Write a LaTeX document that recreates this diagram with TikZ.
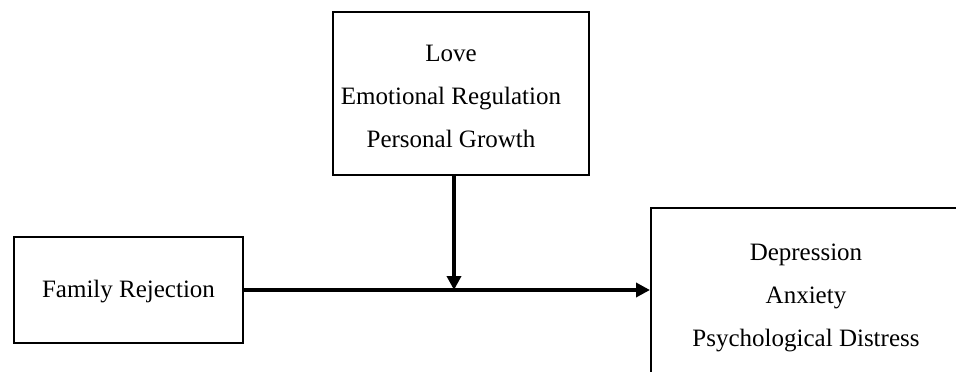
\documentclass[tikz,border=0pt]{standalone}
\usepackage{fontspec}
\setmainfont{Liberation Serif}
\usetikzlibrary{arrows.meta}
\tikzset{
  box/.style={draw=black, line width=2pt, rectangle, inner sep=0pt},
  lbl/.style={align=center, inner sep=0pt, font=\fontsize{25}{43}\selectfont},
  conn/.style={line width=3.5pt, -{Triangle[length=14pt,width=14pt]}}
}
\begin{document}
\begin{tikzpicture}[x=1pt,y=-1pt]
\useasboundingbox (0,0) rectangle (956,372);
\clip (0,0) rectangle (956,372);
% boxes
\node[box, minimum width=256pt, minimum height=163pt] (mod) at (461,93.5) {};
\node[box, minimum width=229pt, minimum height=106pt] (fam) at (128.5,290) {};
\node[box, minimum width=349pt, minimum height=192pt] (out) at (825.5,304) {};
% texts
\node[lbl] (modt) at (451,96) {Love\\Emotional Regulation\\Personal Growth};
\node[lbl] (famt) at (128.5,292) {Family Rejection};
\node[lbl] (outt) at (806,298) {Depression\\Anxiety\\Psychological Distress};
% connectors
\coordinate (j) at (454,290);
\draw[conn] (fam.east) -- (fam.east -| out.west);
\draw[conn] (mod.south -| j) -- (j);
\end{tikzpicture}
\end{document}
